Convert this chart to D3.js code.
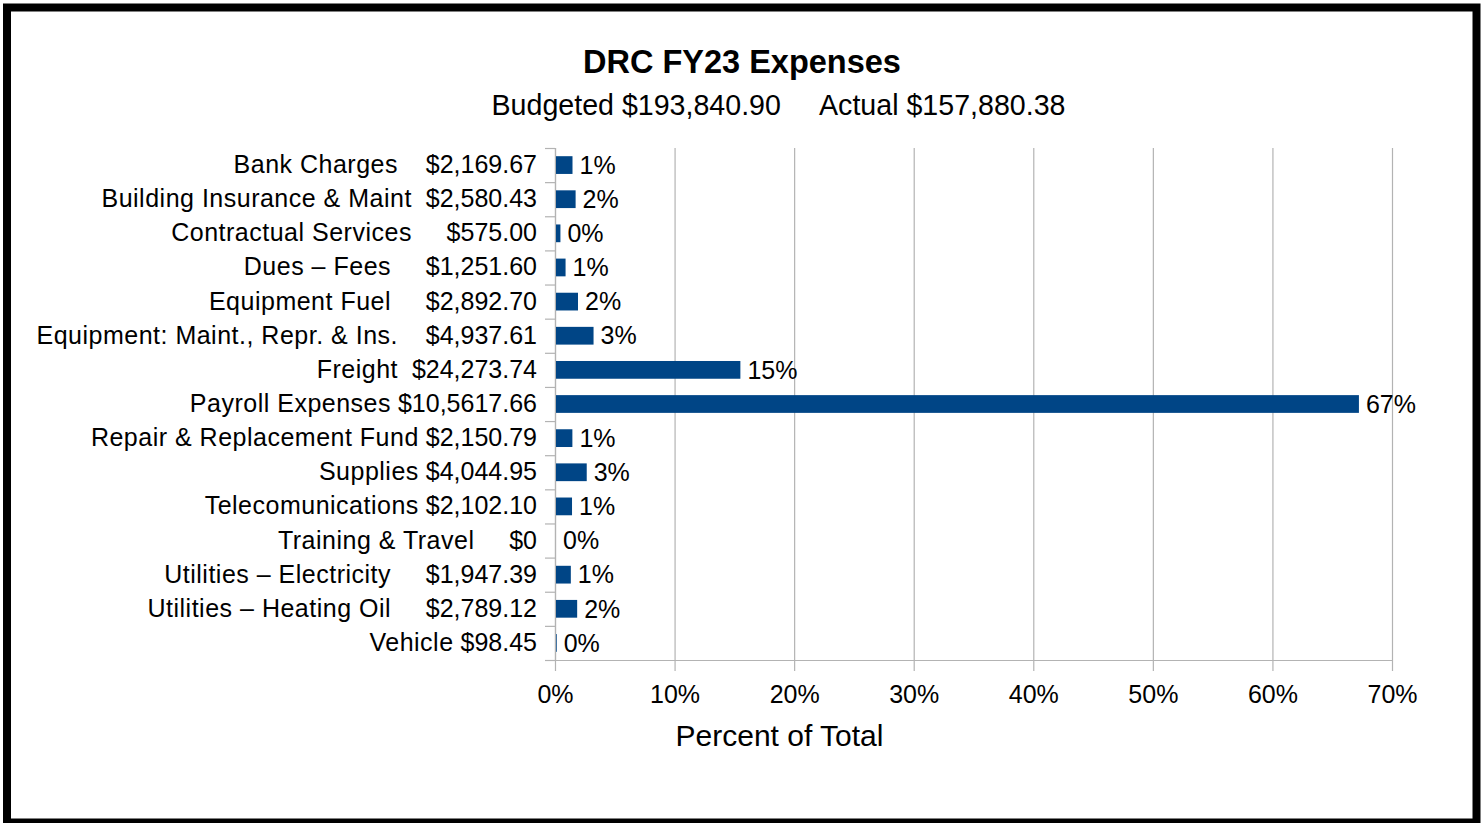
<!DOCTYPE html>
<html>
<head>
<meta charset="utf-8">
<script src="https://cdn.jsdelivr.net/npm/d3@7"></script>
<style>
  body { margin: 0; background: #fff; }
  svg { font-family: "Liberation Sans", Arial, sans-serif; }
  text { white-space: pre; fill: #000; }
</style>
</head>
<body>
<svg id="chart" width="1484" height="823"></svg>
<script>
const title = "DRC FY23 Expenses";
const subtitle = "Budgeted $193,840.90     Actual $157,880.38";
const axisTitle = "Percent of Total";

// category text as it appears in the chart (the source padded with spaces)
const categories = [
  "Bank Charges    $2,169.67",
  "Building Insurance & Maint  $2,580.43",
  "Contractual Services     $575.00",
  "Dues \u2013 Fees     $1,251.60",
  "Equipment Fuel     $2,892.70",
  "Equipment: Maint., Repr. & Ins.    $4,937.61",
  "Freight  $24,273.74",
  "Payroll Expenses $10,5617.66",
  "Repair & Replacement Fund $2,150.79",
  "Supplies $4,044.95",
  "Telecomunications $2,102.10",
  "Training & Travel     $0",
  "Utilities \u2013 Electricity     $1,947.39",
  "Utilities \u2013 Heating Oil     $2,789.12",
  "Vehicle $98.45",
];
// percent of total
const percents = [1.38, 1.64, 0.37, 0.8, 1.84, 3.14, 15.42, 67.15, 1.37, 2.57, 1.34, 0, 1.24, 1.77, 0.06];
const xTicks = [0, 10, 20, 30, 40, 50, 60, 70];

const data = categories.map((c, i) => ({ label: c, pct: percents[i] }));

const margin = { top: 148, left: 555, right: 92, bottom: 163 };
const W = 1484, H = 823;
const width = W - margin.left - margin.right;
const height = H - margin.top - margin.bottom;

const svg = d3.select("#chart");

// outer frame
svg.append("rect")
  .attr("x", 7).attr("y", 7.5)
  .attr("width", 1469.5).attr("height", 815)
  .attr("fill", "none").attr("stroke", "#000").attr("stroke-width", 8);

svg.append("text").attr("x", 742).attr("y", 73)
  .attr("text-anchor", "middle").attr("font-size", 32.5).attr("font-weight", "bold")
  .text(title);
svg.append("text").attr("x", 778.5).attr("y", 115)
  .attr("text-anchor", "middle").attr("font-size", 28.6)
  .text(subtitle);

const g = svg.append("g").attr("transform", `translate(${margin.left},${margin.top})`);

const xScale = d3.scaleLinear().domain([0, 70]).range([0, width]);
const yScale = d3.scaleBand().domain(categories).range([0, height])
  .paddingInner(0.48).paddingOuter(0.24);

// vertical gridlines
g.append("g").attr("class", "grid")
  .selectAll("line").data(xTicks).join("line")
  .attr("x1", (d) => xScale(d) + 0.5).attr("x2", (d) => xScale(d) + 0.5)
  .attr("y1", 0).attr("y2", height + 11)
  .attr("stroke", "#b3b3b3").attr("stroke-width", 1.2);

// bottom axis
const xAxis = g.append("g").attr("transform", `translate(0,${height})`)
  .call(d3.axisBottom(xScale).tickValues(xTicks).tickFormat((d) => d + "%").tickSize(0).tickPadding(25));
xAxis.select(".domain").remove();
xAxis.selectAll("text").attr("font-size", 25).attr("font-family", "Liberation Sans, Arial, sans-serif").attr("fill", "#000");
g.append("line")
  .attr("x1", -10).attr("x2", width)
  .attr("y1", height + 0.5).attr("y2", height + 0.5)
  .attr("stroke", "#b3b3b3").attr("stroke-width", 1.2);

// left axis: line plus ticks at band boundaries
const half = (yScale.step() - yScale.bandwidth()) / 2;
const bounds = categories.map((c) => yScale(c) - half).concat([height]);
g.append("line")
  .attr("x1", 0.5).attr("x2", 0.5).attr("y1", 0).attr("y2", height)
  .attr("stroke", "#b3b3b3").attr("stroke-width", 1.2);
g.append("g").selectAll("line").data(bounds).join("line")
  .attr("x1", -10).attr("x2", 0)
  .attr("y1", (d) => d + 0.5).attr("y2", (d) => d + 0.5)
  .attr("stroke", "#b3b3b3").attr("stroke-width", 1.2);

const yAxis = g.append("g")
  .call(d3.axisLeft(yScale).tickSize(0).tickPadding(18));
yAxis.select(".domain").remove();
yAxis.selectAll("text")
  .attr("font-size", 25).attr("font-family", "Liberation Sans, Arial, sans-serif").attr("fill", "#000")
  .each(function (d) {
    // name a touch wider than the amount, like the original rendering
    const m = d.match(/^(.*?)(\s+\$.*)$/);
    const t = d3.select(this).text(null);
    t.append("tspan").attr("letter-spacing", 0.5).text(m[1]);
    t.append("tspan").text(m[2]);
  });

// bars
g.append("g").selectAll("rect").data(data).join("rect")
  .attr("x", xScale(0) + 1)
  .attr("y", (d) => yScale(d.label))
  .attr("width", (d) => Math.max(0, xScale(d.pct) - xScale(0)))
  .attr("height", yScale.bandwidth())
  .attr("fill", "#004586");

// value labels
g.append("g").selectAll("text").data(data).join("text")
  .attr("x", (d) => xScale(d.pct) + 8)
  .attr("y", (d) => yScale(d.label) + yScale.bandwidth() / 2)
  .attr("dy", "0.35em")
  .attr("font-size", 25)
  .text((d) => Math.round(d.pct) + "%");

svg.append("text").attr("x", 779.5).attr("y", 746)
  .attr("text-anchor", "middle").attr("font-size", 30)
  .text(axisTitle);
</script>
</body>
</html>
